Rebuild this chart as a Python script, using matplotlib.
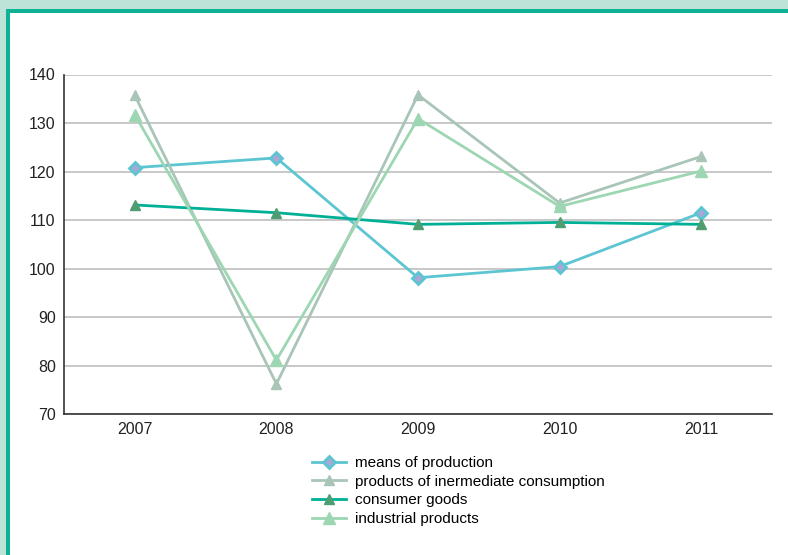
import matplotlib.pyplot as plt
from matplotlib.patches import Rectangle

plt.rcParams['font.family'] = ['Liberation Sans', 'DejaVu Sans']

years = ["2007", "2008", "2009", "2010", "2011"]
means_of_production = [120.8, 122.8, 98.1, 100.4, 111.5]
intermediate_consumption = [135.7, 76.2, 135.8, 113.5, 123.1]
consumer_goods = [113.1, 111.5, 109.1, 109.5, 109.1]
industrial_products = [131.7, 81.1, 130.9, 112.8, 120.1]

W, H = 788, 555
fig = plt.figure(figsize=(W / 100, H / 100), dpi=100)
fig.patch.set_facecolor('#bde3d9')

# marco teal + zona blanca
fig.patches.append(Rectangle((6 / W, 0), 1, 1 - 9 / H, transform=fig.transFigure,
                             facecolor='#0db294', edgecolor='none', zorder=-10))
fig.patches.append(Rectangle((10 / W, 0), 1, 1 - 13 / H, transform=fig.transFigure,
                             facecolor='white', edgecolor='none', zorder=-9))

ax = fig.add_axes([64 / W, 1 - 414 / H, (772 - 64) / W, (414 - 74.5) / H])
ax.set_facecolor('none')
x = list(range(len(years)))

ax.plot(x, means_of_production, color='#5bc5d2', lw=2, marker='D', ms=6.5,
        mfc='#a9a7d6', mec='#5bc5d2', mew=2, label='means of production', zorder=3)
ax.plot(x, intermediate_consumption, color='#a9c5b8', lw=2, marker='^', ms=7,
        mfc='#a9c5b8', mec='#a9c5b8', label='products of inermediate consumption', zorder=3)
ax.plot(x, consumer_goods, color='#00b096', lw=2, marker='^', ms=7,
        mfc='#4e9e72', mec='#4e9e72', label='consumer goods', zorder=3)
ax.plot(x, industrial_products, color='#9dd6b2', lw=2, marker='^', ms=8,
        mfc='#9dd6b2', mec='#9dd6b2', label='industrial products', zorder=3)

ax.set_xlim(-0.5, 4.5)
ax.set_ylim(70, 140)
ax.set_yticks(range(70, 141, 10))
ax.set_xticks(x)
ax.set_xticklabels(years)
ax.tick_params(length=0, labelsize=11.5, colors='#222222', pad=6)
ax.grid(axis='y', color='#c4c4c4', lw=1.3)
ax.set_axisbelow(True)
for s in ['top', 'right']:
    ax.spines[s].set_visible(False)
for s in ['left', 'bottom']:
    ax.spines[s].set_color('#333333')
    ax.spines[s].set_linewidth(1.2)

fig.legend(loc='upper left', bbox_to_anchor=(306 / W, 1 - 450 / H), frameon=False,
           fontsize=11, handlelength=2.2, handletextpad=0.6, labelspacing=0.3,
           borderaxespad=0)

fig.savefig('out.png', dpi=100, facecolor=fig.get_facecolor())
